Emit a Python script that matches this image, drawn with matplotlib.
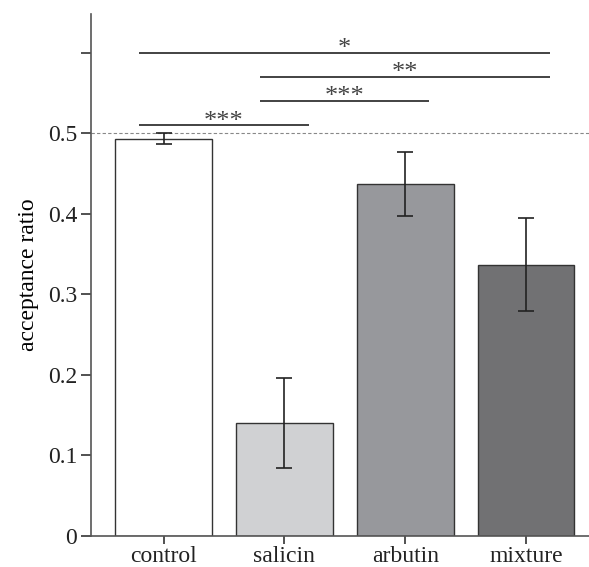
import matplotlib
matplotlib.use("Agg")
import matplotlib.pyplot as plt

# data
categories = ["control", "salicin", "arbutin", "mixture"]
means = [0.493, 0.140, 0.437, 0.337]
errors = [0.007, 0.056, 0.040, 0.058]
bar_colors = ["#ffffff", "#d0d1d3", "#97989c", "#717173"]

# significance brackets: (from bar, to bar, height, label)
sig_from = [0, 1, 1, 0]
sig_to = [1, 2, 3, 3]
sig_y = [0.51, 0.54, 0.57, 0.60]
sig_labels = ["***", "***", "**", "*"]

yticks = [0, 0.1, 0.2, 0.3, 0.4, 0.5, 0.6]
yticklabels = ["0", "0.1", "0.2", "0.3", "0.4", "0.5", ""]

plt.rcParams["font.family"] = ["Liberation Serif", "DejaVu Serif"]

fig = plt.figure(figsize=(5.89, 5.67), dpi=100)
ax = fig.add_axes([0.1545, 0.0547, 0.8455, 0.9206])

x = range(len(categories))
ax.bar(x, means, width=0.8, color=bar_colors, edgecolor="#333333", linewidth=1.0, zorder=2)
ax.errorbar(x, means, yerr=errors, fmt="none", ecolor="#222222", elinewidth=1.2,
            capsize=6, capthick=1.2, zorder=3)

# reference line at 0.5
ax.axhline(0.5, color="#888888", linestyle=(0, (3, 2)), linewidth=0.8, zorder=1)

for a, b, h, lab in zip(sig_from, sig_to, sig_y, sig_labels):
    ax.plot([a - 0.2, b + 0.2], [h, h], color="#222222", linewidth=1.2, solid_capstyle="butt")
    ax.text((a + b) / 2, h - 0.003, lab, ha="center", va="baseline", fontsize=19, color="#444444")

ax.set_xlim(-0.6, 3.52)
ax.set_ylim(0, 0.648)
ax.set_xticks(list(x))
ax.set_xticklabels(categories, fontsize=17)
ax.set_yticks(yticks)
ax.set_yticklabels(yticklabels, fontsize=17)
ax.set_ylabel("acceptance ratio", fontsize=17, labelpad=6)

for side in ["top", "right"]:
    ax.spines[side].set_visible(False)
for side in ["left", "bottom"]:
    ax.spines[side].set_color("#555555")
    ax.spines[side].set_linewidth(1.2)
ax.tick_params(axis="both", direction="out", length=7, width=1.2, color="#333333",
               labelcolor="#222222", pad=3)
ax.tick_params(axis="x", length=6, pad=1)

fig.savefig("out.png", dpi=100)
